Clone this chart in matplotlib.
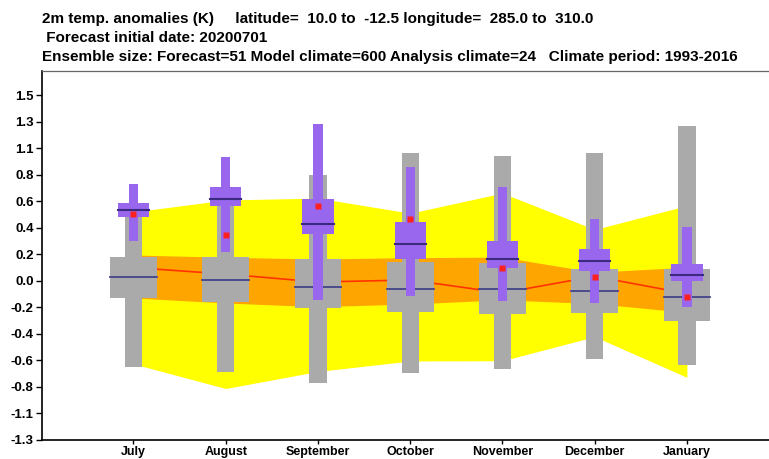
import matplotlib
matplotlib.use("Agg")
import matplotlib.pyplot as plt
from matplotlib.patches import Rectangle
import numpy as np

plt.rcParams['font.family'] = ['Liberation Sans', 'DejaVu Sans']

months = ['July', 'August', 'September', 'October', 'November', 'December', 'January']

# Model climate / forecast distribution (grey)
grey_whisk_lo = [-0.682, -0.727, -0.810, -0.730, -0.703, -0.621, -0.671]
grey_whisk_hi = [0.55, 0.62, 0.844, 1.017, 0.998, 1.021, 1.234]
grey_box_lo = [-0.133, -0.165, -0.217, -0.247, -0.263, -0.252, -0.316]
grey_box_hi = [0.189, 0.189, 0.173, 0.154, 0.141, 0.093, 0.093]
grey_median = [0.029, 0.008, -0.045, -0.064, -0.061, -0.082, -0.125]

# Forecast distribution (purple)
purp_whisk_lo = [0.321, 0.228, -0.151, -0.119, -0.157, -0.173, -0.205]
purp_whisk_hi = [0.772, 0.985, 1.25, 0.905, 0.751, 0.491, 0.428]
purp_box_lo = [0.512, 0.597, 0.372, 0.173, 0.101, 0.080, 0.002]
purp_box_hi = [0.619, 0.751, 0.653, 0.472, 0.318, 0.255, 0.133]
purp_median = [0.565, 0.653, 0.454, 0.295, 0.178, 0.157, 0.050]
red_dot = [0.531, 0.369, 0.597, 0.491, 0.106, 0.032, -0.125]

# Analysis climate bands
yellow_hi = [0.55, 0.645, 0.66, 0.54, 0.70, 0.41, 0.60]
yellow_lo = [-0.66, -0.856, -0.72, -0.637, -0.635, -0.443, -0.767]
orange_hi = [0.207, 0.189, 0.175, 0.186, 0.19, 0.07, 0.11]
orange_lo = [-0.135, -0.175, -0.205, -0.183, -0.15, -0.18, -0.25]
red_line = [0.107, 0.055, -0.008, 0.008, -0.095, 0.037, -0.101]

tick_step = 0.211
ytick_labels = ['-1.3', '-1.1', '-0.8', '-0.6', '-0.4', '-0.2', '0.0',
                '0.2', '0.4', '0.6', '0.8', '1.1', '1.3', '1.5']

title_lines = [
    "2m temp. anomalies (K)     latitude=  10.0 to  -12.5 longitude=  285.0 to  310.0",
    " Forecast initial date: 20200701",
    "Ensemble size: Forecast=51 Model climate=600 Analysis climate=24   Climate period: 1993-2016",
]

W, H = 769, 459
fig = plt.figure(figsize=(W / 100, H / 100), dpi=100)
ax = fig.add_axes([42 / W, 19 / H, (W - 42) / W, 369 / H])

x = np.arange(len(months))

ax.fill_between(x, yellow_lo, yellow_hi, color='#ffff00', lw=0, zorder=1)
ax.fill_between(x, orange_lo, orange_hi, color='#ffa500', lw=0, zorder=2)
ax.plot(x, red_line, color='#ff3300', lw=1.2, zorder=3)

grey = '#aaaaaa'
purple = '#9966ee'
for i in x:
    ax.add_patch(Rectangle((i - 0.094, grey_whisk_lo[i]), 0.188,
                           grey_whisk_hi[i] - grey_whisk_lo[i], color=grey, lw=0, zorder=4))
    ax.add_patch(Rectangle((i - 0.253, grey_box_lo[i]), 0.506,
                           grey_box_hi[i] - grey_box_lo[i], color=grey, lw=0, zorder=5))
    ax.plot([i - 0.253, i + 0.253], [grey_median[i]] * 2, color='#44448a', lw=1.3, zorder=6)
    ax.add_patch(Rectangle((i - 0.05, purp_whisk_lo[i]), 0.10,
                           purp_whisk_hi[i] - purp_whisk_lo[i], color=purple, lw=0, zorder=7))
    ax.add_patch(Rectangle((i - 0.17, purp_box_lo[i]), 0.34,
                           purp_box_hi[i] - purp_box_lo[i], color=purple, lw=0, zorder=8))
    ax.plot([i - 0.17, i + 0.17], [purp_median[i]] * 2, color='#3a2a80', lw=1.5, zorder=9)

ax.plot(x, red_dot, ls='none', marker='s', ms=4.0, color='#ff2020', mec='none', zorder=10)

ax.set_xlim(-0.992, 6.89)
ax.set_ylim(-6 * tick_step, 1.672)
ax.set_yticks(np.arange(-6, 8) * tick_step)
ax.set_yticklabels(ytick_labels)
ax.set_xticks(x)
ax.set_xticklabels(months)
for lab in ax.get_xticklabels() + ax.get_yticklabels():
    lab.set_fontweight('bold')
ax.tick_params(direction='out', length=4, width=1, labelsize=9.5, pad=2)
ax.tick_params(axis='x', length=3, labelsize=9, pad=1)

ax.spines['right'].set_visible(False)
ax.spines['top'].set_color('#666666')
ax.spines['top'].set_linewidth(0.9)
ax.spines['left'].set_linewidth(1.2)
ax.spines['bottom'].set_linewidth(1.2)

baselines = [23, 42, 61]
for line, b in zip(title_lines, baselines):
    fig.text(42 / W, 1 - b / H, line, fontsize=11, fontweight='bold',
             ha='left', va='baseline')

fig.savefig('out.png', dpi=100)
